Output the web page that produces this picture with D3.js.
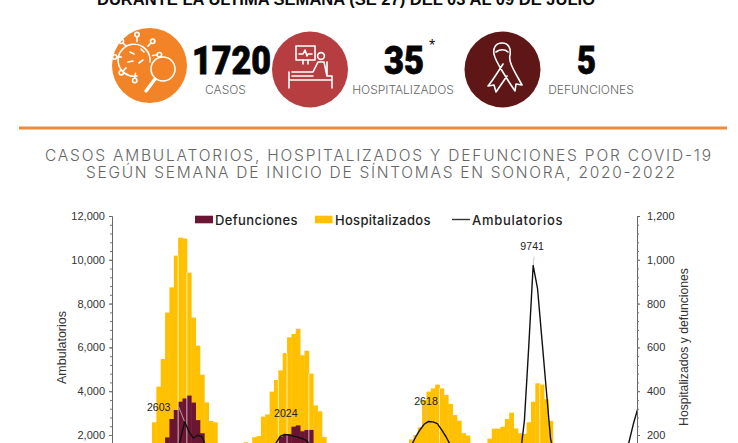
<!DOCTYPE html>
<html><head><meta charset="utf-8">
<script src="https://cdnjs.cloudflare.com/ajax/libs/d3/7.8.5/d3.min.js"></script>
<style>html,body{margin:0;padding:0;background:#fff;overflow:hidden}svg{display:block}</style>
</head><body><svg id="c" width="738" height="443"></svg>
<script>
const headerTitle = "DURANTE LA ÚLTIMA SEMANA (SE 27) DEL 03 AL 09 DE JULIO";
const chartTitle = ["CASOS AMBULATORIOS, HOSPITALIZADOS Y DEFUNCIONES POR COVID-19","SEGÚN SEMANA DE INICIO DE SÍNTOMAS EN SONORA, 2020-2022"];
const kpiValues = ["1720","35","5"];
const kpiLabels = ["CASOS","HOSPITALIZADOS","DEFUNCIONES"];
const legendLabels = ["Defunciones","Hospitalizados","Ambulatorios"];
const leftTicks = [2000,4000,6000,8000,10000,12000];
const rightTicks = [200,400,600,800,1000,1200];
const hospitalizados = [
4,8,15,22,30,45,70,95,150,258,
421,547,759,874,1019,1101,1097,941,736,608,
475,349,264,258,150,120,95,80,90,120,
167,140,190,195,284,294,398,451,495,574,
646,661,685,564,585,480,335,308,191,150,
120,100,85,75,70,60,55,50,45,40,
35,32,30,35,45,60,85,130,180,200,
235,360,398,413,430,413,383,342,291,265,
208,197,140,110,90,120,183,229,229,238,
273,302,230,208,205,258,352,436,430,363,
264,150,100,70,50,35,25,18,14,12,
10,10,10,12,14,18,22,30,40,50,40];
const defunciones = [
0,1,2,3,5,8,12,20,35,55,
80,130,189,273,314,352,367,380,348,268,
208,120,70,50,35,25,18,15,15,20,
30,35,40,45,60,80,100,140,192,200,
203,238,244,217,223,223,130,100,70,50,
35,25,18,14,10,8,6,5,4,4,
3,3,3,4,5,8,12,20,30,40,
55,70,85,95,100,105,100,95,85,70,
55,45,35,25,20,20,25,30,35,40,
45,50,45,40,40,50,65,85,95,90,
70,45,30,20,12,8,5,4,3,2,
1,1,1,1,1,1,2,2,3,3,2];
const ambulatorios = [
20,40,70,110,160,230,320,420,520,620,
720,820,920,1000,1120,1770,2603,2150,1860,1990,
1920,1400,1000,700,500,380,300,260,280,360,
480,600,700,760,820,900,1100,1650,1950,2024,
2000,1950,1900,1830,1740,1500,1200,900,650,480,
380,300,240,200,170,150,130,120,110,100,
100,110,130,170,260,520,800,1100,1500,1900,
2230,2500,2618,2600,2520,2230,1920,1540,1200,950,
760,600,500,420,380,360,380,420,480,560,
620,700,800,1000,2680,6080,9741,8700,6400,4100,
1820,1000,500,300,200,150,120,100,90,80,
80,85,90,100,130,200,500,900,1680,2500,3187];
const peakWeeks = [16,39,72,96];
const peakText = ["2603","2024","2618","9741"];
const seamWeeks = [15,17,38,40,45,75,98];

const svg = d3.select("#c");
const weeks = d3.range(ambulatorios.length);
const x = d3.scaleBand().domain(weeks).range([112.8, 112.8+4.356*weeks.length]);
const yL = d3.scaleLinear().domain([0,12000]).range([478.8,216]);
const yR = d3.scaleLinear().domain([0,1200]).range([478.8,216]);
const SANS = "'Liberation Sans',Arial,sans-serif", GEO = "Inter,'DejaVu Sans',sans-serif";
const labelDx = [-26,1,-2.6,-1], labelDy = [-11,-17.5,-16.5,-15.5];
const leaderDx = [-6,null,-3.6,1], leaderDy = [-15,null,-15,-9];

// header
svg.append("text").attr("x",346).attr("y",5).attr("text-anchor","middle").attr("textLength",498).attr("lengthAdjust","spacingAndGlyphs")
 .attr("font-family",SANS).attr("font-weight",700).attr("font-size",15.6).attr("fill","#0b0b0b").text(headerTitle);
const circles=[[149.5,65.5,37.5,"#f28327"],[310,69.5,38,"#b73e40"],[502.5,69.5,38,"#5f1616"]];
svg.selectAll("circle.k").data(circles).join("circle").attr("class","k")
 .attr("cx",d=>d[0]).attr("cy",d=>d[1]).attr("r",d=>d[2]).attr("fill",d=>d[3]);
const ic = svg.append("g").attr("fill","none").attr("stroke","#fff").attr("stroke-width",1.6).attr("stroke-linecap","round").attr("stroke-linejoin","round");
// virus icon
ic.append("path").attr("d","M150 62 A16 16 0 1 0 137 76");
[[0,-20],[14,-14],[20,-2],[-20,0],[-14,-14],[-14,14],[-2,21]].forEach(o=>{
  ic.append("line").attr("x1",137+o[0]*.78).attr("y1",57+o[1]*.78).attr("x2",137+o[0]).attr("y2",57+o[1]);
  ic.append("circle").attr("cx",137+o[0]*1.12).attr("cy",57+o[1]*1.12).attr("r",2.2);
});
ic.append("path").attr("d","M130 52l4 2M141 49l3 3M128 62l5-1M139 63l4-3");
ic.append("circle").attr("cx",163).attr("cy",69).attr("r",12);
ic.append("path").attr("stroke-width",3.4).attr("d","M155 79L146 91");
// bed icon
ic.append("rect").attr("x",296).attr("y",46).attr("width",19).attr("height",14);
ic.append("path").attr("d","M299 54h4l2-4 2 6 1-2h4M303 60v4M308 60v4");
ic.append("circle").attr("cx",321).attr("cy",56).attr("r",3.4);
ic.append("path").attr("d","M289 88V72M289 80H332V88M292 72H313L318 62H324L327 76H332V88M292 76H313M327 62V76");
// ribbon icon
ic.append("path").attr("d","M502 43C495 43 493 49 494 54C495 61 502 70 509 82L515 91L516 84L522 85C515 72 508 62 510 55C511 49 509 43 502 43ZM496 52C500 49 505 49 508 52M503 64C498 72 493 80 488 86L494 85L496 92L507 76");
const tx=[231.5,404,586.5], lx=[225.5,403,591], tw=[79,40,19];
svg.selectAll("text.n").data(kpiValues).join("text").attr("class","n")
 .attr("x",(d,i)=>tx[i]).attr("y",74).attr("text-anchor","middle").attr("textLength",(d,i)=>tw[i]).attr("lengthAdjust","spacingAndGlyphs")
 .attr("font-family","Roboto,Inter,sans-serif").attr("font-weight",900).attr("font-size",38).attr("fill","#050505").attr("stroke","#050505").attr("stroke-width",.8).text(d=>d);
svg.append("text").attr("x",432).attr("y",51).attr("text-anchor","middle").attr("font-family",SANS).attr("font-size",16).attr("fill","#111").text("*");
svg.selectAll("text.l").data(kpiLabels).join("text").attr("class","l")
 .attr("x",(d,i)=>lx[i]).attr("y",94).attr("text-anchor","middle")
 .attr("font-family",GEO).attr("font-weight",300).attr("font-size",12).attr("fill","#666").text(d=>d);
svg.append("rect").attr("x",19).attr("y",126.5).attr("width",708).attr("height",3).attr("fill","#ed8b3f");
svg.selectAll("text.t").data(chartTitle).join("text").attr("class","t")
 .attr("x",(d,i)=>[45,86][i]).attr("y",(d,i)=>[161,178][i])
 .attr("textLength",(d,i)=>[666,589][i]).attr("lengthAdjust","spacing")
 .attr("font-family",GEO).attr("font-weight",300).attr("font-size",15.5).attr("fill","#666").text(d=>d);

// bars
svg.append("g").selectAll("rect").data(hospitalizados).join("rect")
 .attr("x",(d,i)=>x(i)).attr("width",x.bandwidth()+.4).attr("y",d=>yR(d)).attr("height",d=>yR(0)-yR(d)).attr("fill","#ffc000");
svg.append("g").selectAll("rect").data(defunciones).join("rect")
 .attr("x",(d,i)=>x(i)).attr("width",x.bandwidth()+.4).attr("y",d=>yR(d)).attr("height",d=>yR(0)-yR(d)).attr("fill","#6b1535");
svg.append("g").selectAll("line").data(seamWeeks).join("line")
 .attr("x1",d=>x(d)).attr("x2",d=>x(d)).attr("y1",d=>yR(Math.min(hospitalizados[d],hospitalizados[d-1]))).attr("y2",yR(0))
 .attr("stroke","#fff").attr("stroke-opacity",.75).attr("stroke-width",.9);
// leader lines and line
const cx = i => x(i)+x.bandwidth()/2;
svg.append("g").selectAll("line").data(peakWeeks.map((w,i)=>({w,i})).filter(d=>leaderDx[d.i]!==null)).join("line")
 .attr("x1",d=>cx(d.w)).attr("y1",d=>yL(ambulatorios[d.w]))
 .attr("x2",d=>cx(d.w)+leaderDx[d.i]).attr("y2",d=>yL(ambulatorios[d.w])+leaderDy[d.i])
 .attr("stroke","#cbb8b8").attr("stroke-width",.8);
svg.append("path").datum(ambulatorios).attr("fill","none").attr("stroke","#111").attr("stroke-width",1.4).attr("stroke-linejoin","round")
 .attr("d",d3.line().x((d,i)=>cx(i)).y(d=>yL(d)));
svg.append("g").selectAll("text").data(peakWeeks).join("text")
 .attr("x",(d,i)=>cx(d)+labelDx[i]).attr("y",(d,i)=>yL(ambulatorios[d])+labelDy[i])
 .attr("text-anchor","middle").attr("font-family",SANS).attr("font-size",10.6).attr("fill","#222").text((d,i)=>peakText[i]);

// axes
const axL = svg.append("g").attr("transform","translate(112,0)").call(d3.axisLeft(yL).tickValues(leftTicks).tickFormat(d3.format(",")).tickSize(3).tickPadding(4));
const axR = svg.append("g").attr("transform","translate(637,0)").call(d3.axisRight(yR).tickValues(rightTicks).tickFormat(d3.format(",")).tickSize(3).tickPadding(7));
[axL,axR].forEach(a=>{a.selectAll("text").attr("font-family",SANS).attr("font-size",11).attr("fill","#333");
  a.selectAll("path,line").attr("stroke","#666");});
svg.append("g").attr("transform","translate(112,0)").call(d3.axisLeft(yL).tickValues(d3.range(400,12000,400)).tickFormat("").tickSize(2)).call(g=>g.select("path").remove()).selectAll("line").attr("stroke","#777");
svg.append("g").attr("transform","translate(637,0)").call(d3.axisRight(yR).tickValues(d3.range(40,1200,40)).tickFormat("").tickSize(2)).call(g=>g.select("path").remove()).selectAll("line").attr("stroke","#777");
svg.append("text").attr("transform","translate(66,347.5) rotate(-90)").attr("text-anchor","middle").attr("font-family",SANS).attr("font-size",12.5).attr("fill","#333").text("Ambulatorios");
svg.append("text").attr("transform","translate(688,347) rotate(-90)").attr("text-anchor","middle").attr("font-family",SANS).attr("font-size",12.2).attr("fill","#333").text("Hospitalizados y defunciones");

// legend
svg.append("rect").attr("x",195).attr("y",215.7).attr("width",18).attr("height",7.6).attr("fill","#6b1535");
svg.append("rect").attr("x",315).attr("y",215.7).attr("width",17.5).attr("height",7.6).attr("fill","#ffc000");
svg.append("line").attr("x1",452).attr("x2",470).attr("y1",219.5).attr("y2",219.5).attr("stroke","#333").attr("stroke-width",1.4);
svg.selectAll("text.lg").data(legendLabels).join("text").attr("class","lg")
 .attr("x",(d,i)=>[215,335,472][i]).attr("y",224.5).attr("textLength",(d,i)=>[82.5,95.5,90.5][i]).attr("lengthAdjust","spacing")
 .attr("font-family",GEO).attr("font-weight",500).attr("font-size",13).attr("fill","#222").text(d=>d);
</script></body></html>
